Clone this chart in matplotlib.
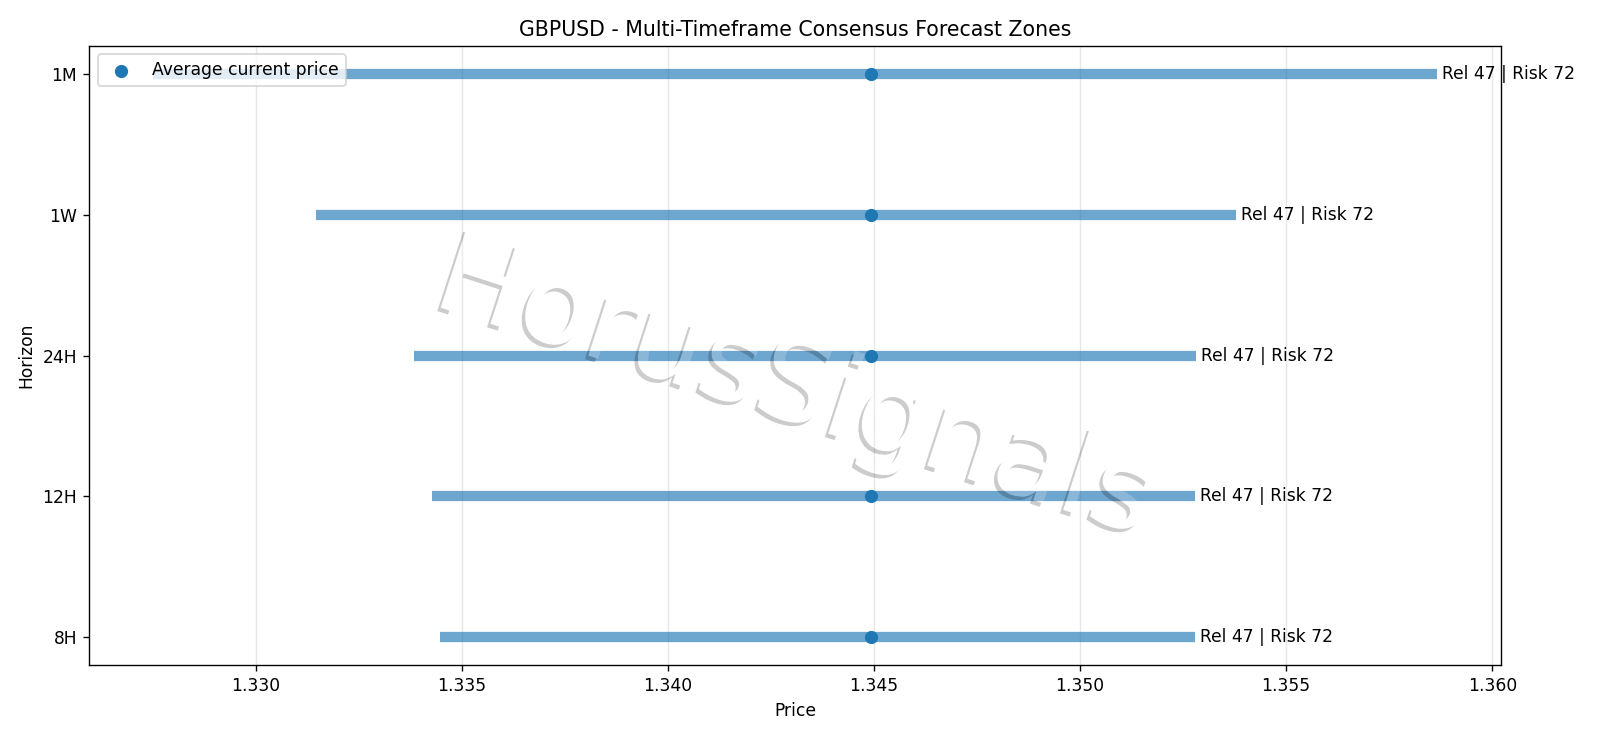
import matplotlib
matplotlib.use("Agg")
import matplotlib.pyplot as plt
import matplotlib.patheffects as pe
import numpy as np

horizons = ["8H", "12H", "24H", "1W", "1M"]
zone_low = [1.33447, 1.33428, 1.33383, 1.33146, 1.32751]
zone_high = [1.35279, 1.35278, 1.35281, 1.35378, 1.35865]
current_price = [1.34493, 1.34493, 1.34493, 1.34493, 1.34493]
reliability = [47, 47, 47, 47, 47]
risk = [72, 72, 72, 72, 72]


def fade(img, dpi):
    # watermark layer is drawn opaque, then faded as a whole
    img = img.copy()
    img[..., 3] *= 0.2
    return img, 0, 0


fig, ax = plt.subplots(figsize=(1600 / 123, 6), dpi=123)
fig.subplots_adjust(left=0.0556, right=0.938, top=0.938, bottom=0.0985)

y = np.arange(len(horizons))
ax.hlines(y, zone_low, zone_high, color="C0", linewidth=6, alpha=0.65)
ax.scatter(current_price, y, s=45, color="C0", zorder=3, label="Average current price")
for i in range(len(horizons)):
    ax.text(zone_high[i] + 0.00013, y[i], "Rel {} | Risk {}".format(reliability[i], risk[i]),
            va="center", fontsize=10)

ax.set_yticks(y)
ax.set_yticklabels(horizons)
ax.set_xlabel("Price")
ax.set_ylabel("Horizon")
ax.set_title("GBPUSD - Multi-Timeframe Consensus Forecast Zones")
ax.grid(axis="x", alpha=0.3)
ax.legend(loc="upper left")

wm = ax.text(0.5, 0.445, "HorusSignals", transform=ax.transAxes, fontsize=67,
             color="white", rotation=-18, ha="center", va="center", zorder=2.6,
             path_effects=[pe.SimplePatchShadow(offset=(-2, -2), shadow_rgbFace="black", alpha=1.0),
                           pe.Normal()])
wm.set_agg_filter(fade)

plt.savefig("out.png", dpi=123)
